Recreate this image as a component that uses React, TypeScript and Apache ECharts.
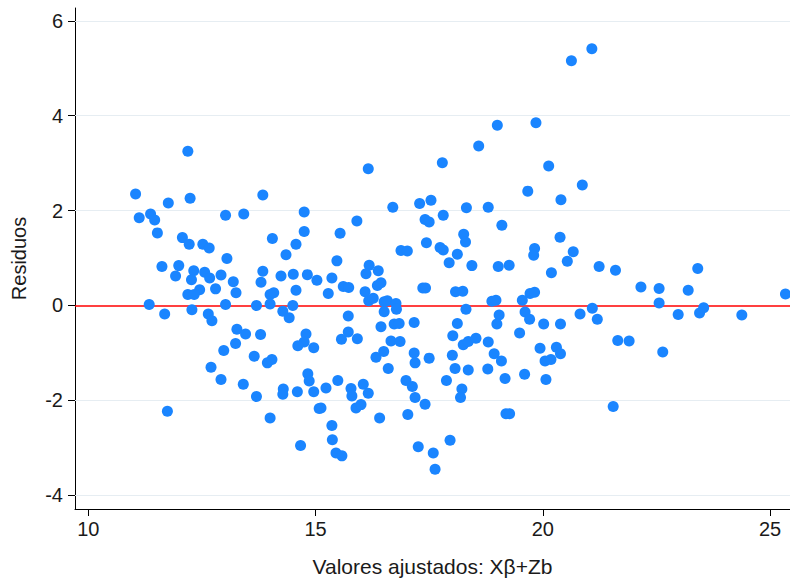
import React, { useEffect, useRef } from "react";
import * as echarts from "echarts";

const fittedValues = [
  11.04, 12.24, 11.76, 13.84, 11.12, 11.37, 11.46, 11.52, 13.02, 13.42,
  14.75, 14.75, 12.07, 12.22, 12.52, 12.66, 14.05, 14.57, 14.35, 13.05,
  11.62, 11.99, 11.92, 12.32, 12.27, 12.56, 12.67, 12.92, 13.19, 13.25,
  13.84, 13.8, 14.24, 14.51, 14.82, 15.03, 14.57, 12.45, 12.19, 12.33,
  12.8, 14.0, 14.08, 11.34, 13.02, 13.7, 14.0, 14.5, 11.68, 12.28,
  12.64, 14.28, 14.42, 12.72, 13.27, 13.46, 13.79, 14.79, 14.75, 14.61,
  14.96, 13.24, 12.98, 13.65, 13.94, 14.04, 12.7, 12.92, 13.41, 13.7,
  14.29, 14.28, 14.6, 14.83, 14.86, 14.96, 15.08, 11.74, 14.0, 14.67,
  19.0, 19.85, 18.59, 17.79, 16.16, 19.67, 16.7, 17.29, 17.54, 18.32,
  18.8, 17.81, 15.91, 17.41, 17.5, 19.1, 15.54, 18.26, 18.3, 17.44,
  16.88, 17.02, 17.74, 17.81, 18.12, 19.82, 19.8, 17.94, 18.44, 19.02,
  19.26, 15.47, 16.18, 16.38, 16.11, 15.36, 15.61, 15.73, 15.28, 16.36,
  16.44, 16.09, 16.17, 16.27, 17.36, 17.42, 18.08, 18.24, 16.51, 16.58,
  16.77, 16.51, 16.78, 15.72, 18.31, 18.88, 18.97, 19.55, 19.72, 19.82,
  19.04, 19.61, 19.71, 18.99, 16.44, 16.73, 16.84, 17.17, 18.12, 15.72,
  15.57, 15.92, 16.66, 16.86, 18.02, 18.25, 18.36, 18.53, 18.8, 19.49,
  16.5, 16.33, 17.17, 17.19, 17.5, 18.01, 18.93, 19.09, 16.6, 18.07,
  18.36, 18.79, 19.6, 19.17, 15.49, 15.23, 15.78, 15.8, 16.05, 16.16,
  16.99, 17.13, 17.19, 17.41, 17.88, 18.22, 18.19, 15.89, 16.0, 15.12,
  16.41, 17.03, 19.19, 19.27, 15.36, 15.37, 15.45, 15.58, 17.26, 17.59,
  17.96, 17.63, 20.63, 21.08, 20.13, 20.4, 20.87, 20.38, 20.67, 20.54,
  20.19, 21.24, 21.6, 22.16, 22.56, 23.2, 23.41, 25.34, 22.56, 21.09,
  20.82, 22.98, 23.45, 23.54, 24.38, 21.2, 20.02, 20.39, 19.94, 20.3,
  20.39, 20.05, 20.18, 20.07, 21.65, 21.9, 22.64, 21.55, 12.19,
];

const residuals = [
  2.35, 2.26, 2.16, 2.33, 1.85, 1.93, 1.8, 1.53, 1.9, 1.93,
  1.97, 1.56, 1.43, 1.29, 1.29, 1.21, 1.41, 1.29, 1.07, 0.99,
  0.82, 0.84, 0.62, 0.73, 0.54, 0.7, 0.58, 0.64, 0.5, 0.27,
  0.72, 0.49, 0.62, 0.66, 0.65, 0.53, 0.32, 0.33, 0.23, 0.23,
  0.35, 0.23, 0.27, 0.02, 0.02, 0.0, 0.03, 0.0, -0.18, -0.09,
  -0.18, -0.12, -0.26, -0.32, -0.5, -0.6, -0.61, -0.6, -0.77, -0.85,
  -0.89, -0.8, -0.95, -1.07, -1.21, -1.14, -1.3, -1.56, -1.66, -1.92,
  -1.76, -1.87, -1.82, -1.44, -1.59, -1.82, -2.17, -2.23, -2.37, -2.95,
  3.8, 3.85, 3.36, 3.01, 2.88, 2.41, 2.07, 2.15, 2.22, 2.06,
  2.07, 1.9, 1.78, 1.81, 1.76, 1.69, 1.52, 1.5, 1.34, 1.32,
  1.16, 1.15, 1.22, 1.17, 1.08, 1.2, 1.06, 0.9, 0.84, 0.82,
  0.85, 0.94, 0.85, 0.73, 0.67, 0.58, 0.4, 0.38, 0.25, 0.42,
  0.48, 0.29, 0.1, 0.15, 0.37, 0.37, 0.29, 0.3, 0.08, 0.1,
  0.04, -0.13, -0.08, -0.22, -0.08, 0.09, 0.11, 0.11, 0.25, 0.28,
  -0.2, -0.14, -0.29, -0.39, -0.45, -0.39, -0.38, -0.36, -0.38, -0.56,
  -0.71, -0.7, -0.75, -0.76, -0.64, -0.83, -0.76, -0.69, -0.77, -0.58,
  -0.97, -1.09, -1.0, -1.21, -1.11, -1.05, -1.02, -1.17, -1.33, -1.33,
  -1.36, -1.34, -1.45, -1.54, -1.58, -1.74, -1.75, -1.91, -1.66, -1.85,
  -1.58, -1.71, -1.94, -2.08, -1.58, -1.76, -1.94, -2.16, -2.09, -2.16,
  -2.37, -2.3, -2.28, -2.28, -2.53, -2.83, -3.11, -3.17, -2.98, -3.11,
  -2.84, -3.45, 5.16, 5.41, 2.94, 2.23, 2.54, 1.44, 1.13, 0.93,
  0.69, 0.82, 0.74, 0.39, 0.36, 0.32, 0.78, 0.24, 0.05, -0.06,
  -0.18, -0.19, -0.16, -0.05, -0.2, -0.29, -0.39, -0.39, -0.9, -0.88,
  -1.02, -1.17, -1.14, -1.56, -0.74, -0.75, -0.98, -2.13, 3.25,
];

const xTicks = [10, 15, 20, 25];
const yTicks = [-4, -2, 0, 2, 4, 6];
const gridLineValues = [-4, -2, 2, 4, 6];
const referenceLine = 0;
const xRange = [9.707, 25.44];
const yRange = [-4.29, 6.27];

export default function App() {
  const ref = useRef<HTMLDivElement>(null);

  useEffect(() => {
    document.body.style.margin = "0";
    const chart = echarts.init(ref.current!, null, { renderer: "svg" });
    const font = "'Liberation Sans', Arial, Helvetica, sans-serif";
    const textColor = "#1a1a1a";
    chart.setOption({
      animation: false,
      backgroundColor: "#ffffff",
      textStyle: { fontFamily: font },
      grid: { left: 75, right: 0, top: 8, bottom: 73, containLabel: false },
      xAxis: {
        type: "value",
        min: xRange[0],
        max: xRange[1],
        name: "Valores ajustados: Xβ+Zb",
        nameLocation: "middle",
        nameGap: 47,
        nameTextStyle: { fontSize: 21, color: textColor, fontFamily: font },
        axisLine: { show: true, onZero: false, lineStyle: { color: "#000", width: 1 } },
        axisTick: { show: true, length: 7, customValues: xTicks, lineStyle: { color: "#000", width: 1 } },
        axisLabel: { customValues: xTicks, fontSize: 20, color: textColor, margin: 10, fontFamily: font },
        splitLine: { show: false },
      },
      yAxis: {
        type: "value",
        min: yRange[0],
        max: yRange[1],
        name: "Residuos",
        nameLocation: "middle",
        nameGap: 46,
        nameTextStyle: { fontSize: 20, color: textColor, fontFamily: font },
        axisLine: { show: true, onZero: false, lineStyle: { color: "#000", width: 1 } },
        axisTick: { show: true, length: 7, customValues: yTicks, lineStyle: { color: "#000", width: 1 } },
        axisLabel: { customValues: yTicks, fontSize: 20, color: textColor, margin: 12, fontFamily: font },
        splitLine: { show: false },
      },
      series: [
        {
          type: "scatter",
          data: fittedValues.map((x, i) => [x, residuals[i]]),
          symbol: "circle",
          symbolSize: 11,
          itemStyle: { color: "#1a85ff", opacity: 1 },
          z: 3,
          silent: true,
          markLine: {
            silent: true,
            symbol: "none",
            z: 1,
            label: { show: false },
            emphasis: { disabled: true },
            data: [
              ...gridLineValues.map((v) => ({
                yAxis: v,
                lineStyle: { color: "#e6edf2", width: 1.2, type: "solid" },
              })),
              { yAxis: referenceLine, lineStyle: { color: "#ff0000", width: 1.6, type: "solid" } },
            ],
          },
        },
      ],
    });
    return () => chart.dispose();
  }, []);

  return (
    <div
      ref={ref}
      style={{ position: "absolute", left: 0, top: 0, width: 790, height: 582 }}
    />
  );
}
